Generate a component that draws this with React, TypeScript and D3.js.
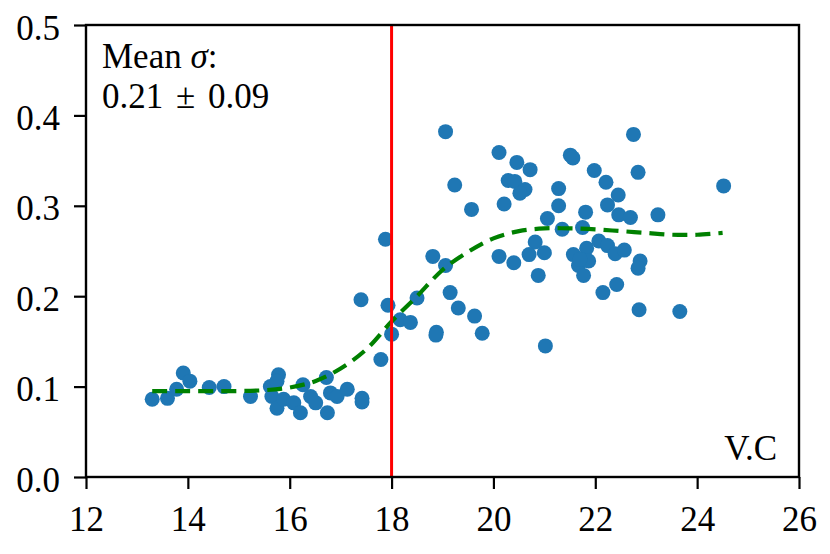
import { useRef, useEffect } from 'react';
import * as d3 from 'd3';

// scatter values
const pointX = [
  13.3, 13.6, 13.78, 13.91, 14.04, 14.42, 14.71, 15.23, 15.62, 15.78, 15.75, 15.65, 15.75, 15.88,
  16.08, 16.21, 16.26, 16.41, 16.51, 16.72, 16.74, 16.8, 16.93, 17.13, 17.42, 17.42, 17.79,
  17.88, 17.4, 17.93, 18.5, 18.81, 19.06, 19.15, 19.31, 19.63, 19.78, 18.88, 18.87, 18.17, 18.37, 18.0,
  19.06, 20.11, 20.46, 20.72, 20.29, 20.42, 20.62, 20.52, 19.24, 19.57, 20.21, 21.28, 21.28, 21.06,
  21.51, 21.56, 21.98, 22.21, 22.45, 22.24, 22.46, 22.69, 21.81, 22.75, 22.84, 23.23, 24.52, 21.35,
  21.75, 20.82, 20.11, 20.4, 20.7, 21.0, 20.88, 21.57, 21.83, 22.07, 22.24, 22.39, 22.57, 21.67,
  21.87, 21.77, 21.7, 22.88, 22.84, 22.42, 22.15, 22.86, 23.66, 21.02,
];
const pointY = [
  0.086, 0.087, 0.097, 0.115, 0.106, 0.099, 0.1, 0.089, 0.1, 0.113, 0.106, 0.089, 0.076, 0.086,
  0.082, 0.071, 0.102, 0.089, 0.082, 0.11, 0.071, 0.093, 0.089, 0.097, 0.087, 0.083, 0.13,
  0.263, 0.196, 0.19, 0.198, 0.244, 0.234, 0.204, 0.187, 0.178, 0.159, 0.16, 0.157, 0.174, 0.171, 0.158,
  0.382, 0.359, 0.348, 0.34, 0.328, 0.327, 0.318, 0.314, 0.323, 0.296, 0.302, 0.319, 0.3, 0.286,
  0.356, 0.353, 0.339, 0.326, 0.312, 0.301, 0.29, 0.287, 0.293, 0.379, 0.337, 0.29, 0.322, 0.274,
  0.276, 0.26, 0.244, 0.237, 0.246, 0.248, 0.223, 0.246, 0.253, 0.261, 0.256, 0.247, 0.251, 0.234,
  0.239, 0.223, 0.241, 0.239, 0.231, 0.213, 0.204, 0.185, 0.183, 0.145,
];

// fitted curve (dashed green)
const fitX = [13.3, 14, 14.9, 15.5, 16, 16.5, 17, 17.5, 18, 18.5, 19, 19.5, 20, 20.5, 21, 21.5, 22, 22.5, 23, 23.5, 24, 24.5];
const fitY = [0.095, 0.095, 0.095, 0.096, 0.099, 0.106, 0.12, 0.141, 0.172, 0.2, 0.229, 0.249, 0.264, 0.272, 0.275, 0.275, 0.274, 0.272, 0.27, 0.268, 0.268, 0.27];

const xTicks = [12, 14, 16, 18, 20, 22, 24, 26];
const yTicks = [0, 0.1, 0.2, 0.3, 0.4, 0.5];
const threshold = 18;

const W = 830;
const H = 554;
const FONT = '"Liberation Serif", "DejaVu Serif", serif';
const FS = 35;

export default function App() {
  const svgRef = useRef<SVGSVGElement>(null);

  useEffect(() => {
    if (!svgRef.current) return;
    const svg = d3.select(svgRef.current);
    svg.selectAll('*').remove();

    const margin = { top: 25, right: 31, bottom: 77, left: 86 };
    const width = W - margin.left - margin.right;
    const height = H - margin.top - margin.bottom;

    const g = svg.append('g').attr('transform', `translate(${margin.left},${margin.top})`);

    const x = d3.scaleLinear().domain([12, 26]).range([0, width]);
    const y = d3.scaleLinear().domain([0, 0.5]).range([height, 0]);

    // Scatter
    g.selectAll('.pt')
      .data(pointX.map((d, i) => [d, pointY[i]]))
      .enter()
      .append('circle')
      .attr('class', 'pt')
      .attr('cx', d => x(d[0]))
      .attr('cy', d => y(d[1]))
      .attr('r', 7.5)
      .attr('fill', '#1f77b4');

    // Fit curve
    const line = d3.line<number>()
      .x(d => x(d))
      .y((_, i) => y(fitY[i]))
      .curve(d3.curveCatmullRom);

    g.append('path')
      .datum(fitX)
      .attr('d', line)
      .attr('fill', 'none')
      .attr('stroke', '#008000')
      .attr('stroke-width', 4.2)
      .attr('stroke-dasharray', '15,8');

    // Threshold line
    g.append('line')
      .attr('x1', x(threshold))
      .attr('x2', x(threshold))
      .attr('y1', 0)
      .attr('y2', height)
      .attr('stroke', '#ff0000')
      .attr('stroke-width', 3);

    // Axes
    const xAxis = d3.axisBottom(x).tickValues(xTicks).tickSize(12).tickPadding(17).tickFormat(d => `${d}`);
    const yAxis = d3.axisLeft(y).tickValues(yTicks).tickSize(12).tickPadding(14).tickFormat(d3.format('.1f'));

    const gx = g.append('g').attr('transform', `translate(0,${height})`).call(xAxis);
    const gy = g.append('g').call(yAxis);
    [gx, gy].forEach(a => {
      a.select('.domain').remove();
      a.selectAll('line').attr('stroke', '#000').attr('stroke-width', 2.2);
      a.selectAll('text').attr('font-family', FONT).attr('font-size', FS).attr('fill', '#000');
    });
    gy.selectAll('text').attr('dy', '0.4em');

    // Frame
    g.append('rect')
      .attr('x', 0)
      .attr('y', 0)
      .attr('width', width)
      .attr('height', height)
      .attr('fill', 'none')
      .attr('stroke', '#000')
      .attr('stroke-width', 2.4);

    // Annotations
    const note = g.append('text')
      .attr('font-family', FONT)
      .attr('font-size', FS)
      .attr('fill', '#000');
    const l1 = note.append('tspan').attr('x', 16).attr('y', 43);
    l1.append('tspan').text('Mean ');
    l1.append('tspan').attr('font-style', 'italic').text('σ');
    l1.append('tspan').text(':');
    note.append('tspan').attr('x', 16).attr('y', 83).attr('word-spacing', 4).text('0.21 ± 0.09');

    g.append('text')
      .attr('x', width - 22)
      .attr('y', height - 17)
      .attr('text-anchor', 'end')
      .attr('font-family', FONT)
      .attr('font-size', FS)
      .attr('fill', '#000')
      .text('V.C');
  }, []);

  return (
    <svg
      ref={svgRef}
      width={W}
      height={H}
      style={{ position: 'absolute', left: 0, top: 0, background: '#fff' }}
    />
  );
}
